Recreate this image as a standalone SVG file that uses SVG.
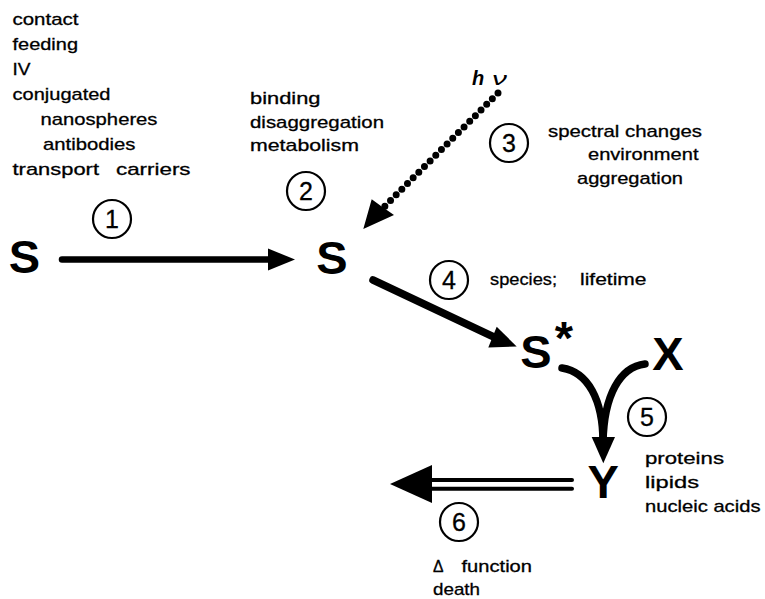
<svg xmlns="http://www.w3.org/2000/svg" width="765" height="599" viewBox="0 0 765 599">
<style>
.t{font-family:"Liberation Sans",Arial,sans-serif;font-size:17px;fill:#000;stroke:#000;stroke-width:0.3}
.big{font-family:"Liberation Sans",Arial,sans-serif;font-size:47px;font-weight:bold;fill:#000;text-anchor:middle}
.num{font-family:"Liberation Sans",Arial,sans-serif;font-size:25px;fill:#000;text-anchor:middle;stroke:#000;stroke-width:0.3}
.circ{fill:none;stroke:#000;stroke-width:2.2}
.ln{fill:none;stroke:#000;stroke-linecap:round}
.head{fill:#000;stroke:none}
</style>
<rect width="765" height="599" fill="#fff"/>

<g id="labels-route">
<text class="t" x="12.5" y="25" textLength="66" lengthAdjust="spacingAndGlyphs">contact</text>
<text class="t" x="12.5" y="50" textLength="65.5" lengthAdjust="spacingAndGlyphs">feeding</text>
<text class="t" x="12.5" y="75" textLength="18" lengthAdjust="spacingAndGlyphs">IV</text>
<text class="t" x="12.5" y="100" textLength="98" lengthAdjust="spacingAndGlyphs">conjugated</text>
<text class="t" x="40.5" y="125" textLength="117" lengthAdjust="spacingAndGlyphs">nanospheres</text>
<text class="t" x="43" y="150" textLength="92.5" lengthAdjust="spacingAndGlyphs">antibodies</text>
<text class="t" x="12.5" y="175" textLength="86.5" lengthAdjust="spacingAndGlyphs">transport</text>
<text class="t" x="116" y="175" textLength="74.5" lengthAdjust="spacingAndGlyphs">carriers</text>
</g>

<g id="labels-binding">
<text class="t" x="250" y="104" textLength="70.5" lengthAdjust="spacingAndGlyphs">binding</text>
<text class="t" x="250" y="127.5" textLength="134" lengthAdjust="spacingAndGlyphs">disaggregation</text>
<text class="t" x="250" y="151" textLength="109" lengthAdjust="spacingAndGlyphs">metabolism</text>
</g>

<g id="light">
<text x="472" y="85" font-family="Liberation Sans,Arial,sans-serif" font-size="20" font-weight="bold" font-style="italic">h</text>
<text x="492" y="85" font-family="Liberation Sans,Arial,sans-serif" font-size="19" font-style="italic" textLength="15" lengthAdjust="spacingAndGlyphs">ν</text>
</g>

<g id="labels-spectral">
<text class="t" x="548" y="136.5" textLength="154" lengthAdjust="spacingAndGlyphs">spectral changes</text>
<text class="t" x="588" y="160" textLength="110.5" lengthAdjust="spacingAndGlyphs">environment</text>
<text class="t" x="577" y="183.5" textLength="106" lengthAdjust="spacingAndGlyphs">aggregation</text>
</g>

<g id="labels-species">
<text class="t" x="490" y="285" textLength="67" lengthAdjust="spacingAndGlyphs">species;</text>
<text class="t" x="580" y="285" textLength="66.5" lengthAdjust="spacingAndGlyphs">lifetime</text>
</g>

<g id="labels-targets">
<text class="t" x="645" y="464" textLength="79" lengthAdjust="spacingAndGlyphs">proteins</text>
<text class="t" x="645" y="488" textLength="54" lengthAdjust="spacingAndGlyphs">lipids</text>
<text class="t" x="645" y="512" textLength="115.5" lengthAdjust="spacingAndGlyphs">nucleic acids</text>
</g>

<g id="labels-outcome">
<text class="t" x="433" y="572" font-size="15" textLength="10.5" lengthAdjust="spacingAndGlyphs">Δ</text>
<text class="t" x="461.5" y="572" textLength="70.5" lengthAdjust="spacingAndGlyphs">function</text>
<text class="t" x="433" y="595" textLength="47" lengthAdjust="spacingAndGlyphs">death</text>
</g>

<g id="node-S0"><text class="big" x="24.5" y="273">S</text></g>
<g id="node-S1"><text class="big" x="332" y="274">S</text></g>
<g id="node-Sstar"><text class="big" x="536" y="368">S</text><text class="big" x="564" y="354" font-size="44">*</text></g>
<g id="node-X"><text class="big" x="668" y="370">X</text></g>
<g id="node-Y"><text class="big" x="603.3" y="498">Y</text></g>

<g id="steps">
<circle class="circ" cx="112" cy="219" r="19"/><text class="num" x="112" y="228">1</text>
<circle class="circ" cx="306" cy="191" r="19"/><text class="num" x="306" y="200">2</text>
<circle class="circ" cx="509" cy="143" r="19"/><text class="num" x="509" y="152">3</text>
<circle class="circ" cx="449" cy="280" r="19"/><text class="num" x="449" y="289">4</text>
<circle class="circ" cx="647" cy="417" r="19"/><text class="num" x="647" y="426">5</text>
<circle class="circ" cx="459" cy="522" r="19"/><text class="num" x="459" y="531">6</text>
</g>

<g id="connectors">
<!-- 1: S -> S -->
<line class="ln" x1="62" y1="259.5" x2="272" y2="259.5" stroke-width="6.5" stroke-linecap="butt"/>
<polygon class="head" points="268,248.5 295,259.5 268,270.5"/>
<!-- 3: light, dotted -->
<line class="ln" x1="498" y1="93" x2="384" y2="207" stroke-width="7" stroke-dasharray="0 8"/>
<polygon class="head" points="371.7,199.3 381,206 394,215 363.3,229"/>
<!-- 4: S -> S* -->
<line class="ln" x1="373" y1="280" x2="496" y2="338" stroke-width="7.5"/>
<polygon class="head" points="496.7,326.7 516.7,346.5 488.3,347.5"/>
<!-- 5: S* + X -> Y -->
<path class="ln" d="M562,368 C588,372 603,400 603,442" stroke-width="7.5" stroke-linecap="butt"/>
<path class="ln" d="M645,364 C620,367 604,395 603,442" stroke-width="7.5" stroke-linecap="butt"/>
<polygon class="head" points="591.7,437 615,437 603.3,463.3"/>
<!-- 6: Y -> outcome, double -->
<line class="ln" x1="428" y1="480" x2="572" y2="480" stroke-width="4" stroke-linecap="butt"/>
<line class="ln" x1="428" y1="488.7" x2="572" y2="488.7" stroke-width="4" stroke-linecap="butt"/>
<polygon class="head" points="432,465 432,503 390,484"/>
</g>
</svg>
